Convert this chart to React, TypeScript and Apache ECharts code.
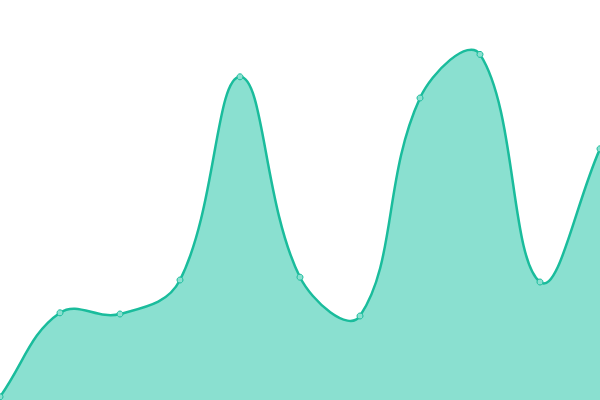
import { useEffect, useRef } from "react";
import * as echarts from "echarts";

const categories = ["1", "2", "3", "4", "5", "6", "7", "8", "9", "10", "11"];
const values = [0.8, 21.8, 21.5, 30, 80.8, 30.7, 21, 75.5, 86.4, 29.5, 62.8];

const LINE_COLOR = "#1abc9c";
const AREA_COLOR = "#8ae0d0";
const TENSION = 0.4;

// cardinal-style spline (no overshoot clamping), built on pixel coords from the axes
function buildPath(pts: number[][]) {
  const n = pts.length;
  const cps: { prev: number[]; next: number[] }[] = [];
  for (let i = 0; i < n; i++) {
    const cur = pts[i];
    const a = pts[i - 1] || cur;
    const b = pts[i + 1] || cur;
    const d01 = Math.hypot(cur[0] - a[0], cur[1] - a[1]);
    const d12 = Math.hypot(b[0] - cur[0], b[1] - cur[1]);
    const sum = d01 + d12 || 1;
    const fa = (TENSION * d01) / sum;
    const fb = (TENSION * d12) / sum;
    cps.push({
      prev: [cur[0] - fa * (b[0] - a[0]), cur[1] - fa * (b[1] - a[1])],
      next: [cur[0] + fb * (b[0] - a[0]), cur[1] + fb * (b[1] - a[1])],
    });
  }
  let d = `M${pts[0][0]},${pts[0][1]}`;
  for (let i = 1; i < n; i++) {
    const c1 = cps[i - 1].next;
    const c2 = cps[i].prev;
    d += ` C${c1[0]},${c1[1]} ${c2[0]},${c2[1]} ${pts[i][0]},${pts[i][1]}`;
  }
  return d;
}

export default function App() {
  const chartRef = useRef<HTMLDivElement>(null);

  useEffect(() => {
    if (!chartRef.current) return;
    const chart = echarts.init(chartRef.current, undefined, { renderer: "svg" });

    chart.setOption({
      animation: false,
      grid: { left: 0, right: 0, top: 0, bottom: 0 },
      xAxis: {
        type: "category",
        data: categories,
        boundaryGap: false,
        show: false,
      },
      yAxis: {
        type: "value",
        min: 0,
        max: 100,
        show: false,
      },
      series: [
        {
          type: "custom",
          data: values.map((v, i) => [i, v]),
          encode: { x: 0, y: 1 },
          clip: true,
          renderItem: (params: any, api: any) => {
            const idx = params.dataIndex;
            const p = api.coord([idx, values[idx]]);
            const dot = {
              type: "circle",
              z2: 10,
              shape: { cx: p[0], cy: p[1], r: 3 },
              style: { fill: AREA_COLOR, stroke: LINE_COLOR, lineWidth: 1 },
            };
            if (idx !== 0) return dot;
            const pts = values.map((v, i) => api.coord([i, v]));
            const base = api.coord([0, 0])[1];
            const line = buildPath(pts);
            const last = pts[pts.length - 1];
            const area = `${line} L${last[0]},${base} L${pts[0][0]},${base} Z`;
            return {
              type: "group",
              children: [
                {
                  type: "path",
                  shape: { pathData: area },
                  style: { fill: AREA_COLOR, stroke: "none" },
                },
                {
                  type: "path",
                  shape: { pathData: line },
                  style: { fill: "none", stroke: LINE_COLOR, lineWidth: 2.5 },
                },
                dot,
              ],
            };
          },
        },
      ],
    });

    return () => {
      chart.dispose();
    };
  }, []);

  return (
    <div
      ref={chartRef}
      style={{ width: 600, height: 400, position: "absolute", left: 0, top: 0 }}
    />
  );
}
